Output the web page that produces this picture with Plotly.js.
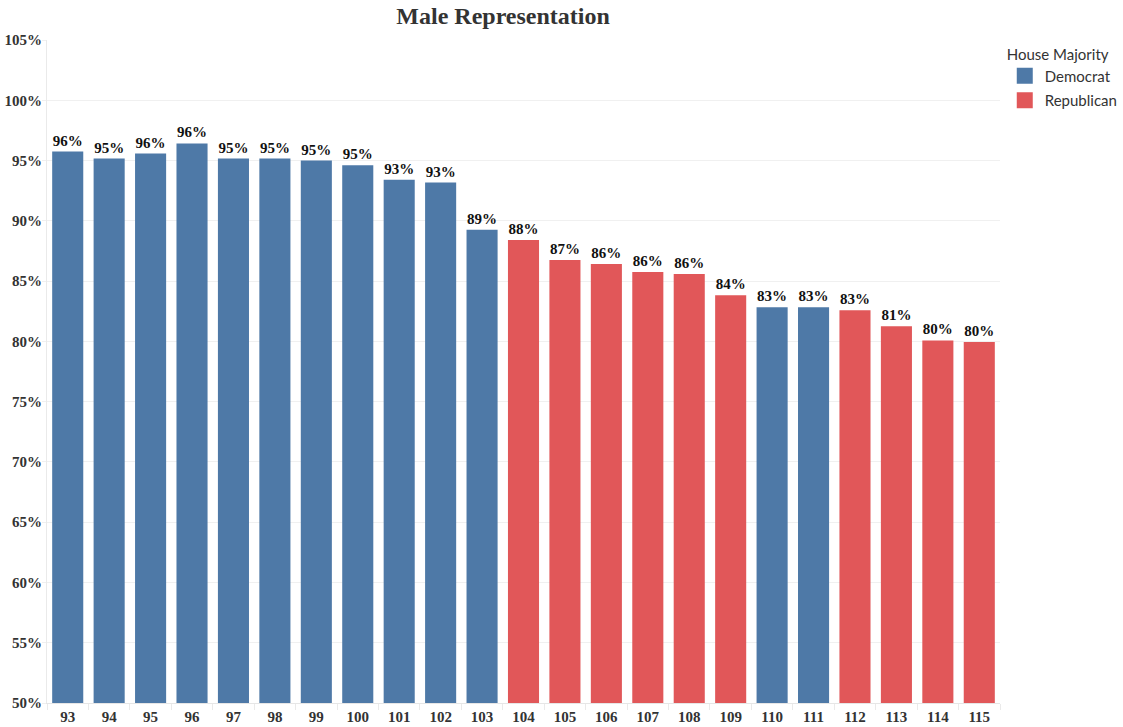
<!DOCTYPE html>
<html>
<head>
<meta charset="utf-8">
<script src="https://cdn.plot.ly/plotly-3.0.1.min.js"></script>
<style>html,body{margin:0;padding:0;background:#fff;}#chart{width:1123px;height:727px;}</style>
</head>
<body>
<div id="chart"></div>
<script>
const congresses = ["93","94","95","96","97","98","99","100","101","102","103","104","105","106","107","108","109","110","111","112","113","114","115"];
const malePct = [95.75,95.17,95.58,96.42,95.17,95.17,95.0,94.6,93.4,93.17,89.25,88.4,86.75,86.42,85.75,85.58,83.83,82.83,82.83,82.58,81.25,80.08,79.95];
const majority = ["Democrat","Democrat","Democrat","Democrat","Democrat","Democrat","Democrat","Democrat","Democrat","Democrat","Democrat","Republican","Republican","Republican","Republican","Republican","Republican","Democrat","Democrat","Republican","Republican","Republican","Republican"];
const parties = ["Democrat","Republican"];
const partyColors = {"Democrat":"#4E79A7","Republican":"#E15759"};

const serif = 'Liberation Serif, Times New Roman, serif';
const sans = 'Lato, Roboto, sans-serif';

const traces = parties.map(p => {
  const xs = [], ys = [];
  congresses.forEach((c,i) => { if (majority[i] === p) { xs.push(c); ys.push(malePct[i]); } });
  return {
    type: 'bar', name: p, x: xs, y: ys, showlegend: false, legendgroup: p,
    marker: {color: partyColors[p]},
    texttemplate: '%{y:.0f}%', textposition: 'outside', cliponaxis: false,
    textfont: {family: serif, size: 15, color: '#111', weight: 'bold'},
    hoverinfo: 'x+y'
  };
});
// legend entries (square swatches)
parties.forEach(p => {
  traces.push({type: 'scatter', mode: 'markers', name: p, legendgroup: p,
    x: [null], y: [null], showlegend: true,
    marker: {symbol: 'square', size: 17, color: partyColors[p]}, hoverinfo: 'skip'});
});

const layout = {
  width: 1123, height: 727,
  margin: {l: 47, r: 123, t: 39.5, b: 24, autoexpand: false},
  paper_bgcolor: '#fff', plot_bgcolor: '#fff',
  barmode: 'overlay', bargap: 0.25,
  title: {text: 'Male\u00a0Representation', x: 0.448, xanchor: 'center', y: 0.978, yanchor: 'middle',
    font: {family: serif, size: 24, color: '#333', weight: 'bold'}},
  xaxis: {type: 'category', categoryorder: 'array', categoryarray: congresses,
    showline: true, linecolor: '#e6e6e6', linewidth: 1, showgrid: false,
    ticks: 'outside', tickson: 'boundaries', ticklen: 6, tickcolor: '#eaeaea',
    tickfont: {family: serif, size: 15, color: '#333', weight: 'bold'}},
  yaxis: {range: [50, 105], dtick: 5, ticksuffix: '%',
    showline: true, linecolor: '#eaeaea', linewidth: 1,
    showgrid: true, gridcolor: '#f0f0f0', zeroline: false,
    ticks: 'outside', ticklen: 4, tickcolor: '#f0f0f0', ticklabelstandoff: -3,
    tickfont: {family: serif, size: 15, color: '#333', weight: 'bold'}},
  legend: {x: 1.005, xanchor: 'left', y: 1.0, yanchor: 'top',
    title: {text: 'House Majority', font: {family: sans, size: 15, color: '#333'}},
    font: {family: sans, size: 15, color: '#333'},
    itemsizing: 'trace', tracegroupgap: 2, itemwidth: 30}
};

Plotly.newPlot('chart', traces, layout, {displayModeBar: false, staticPlot: true});
</script>
</body>
</html>
